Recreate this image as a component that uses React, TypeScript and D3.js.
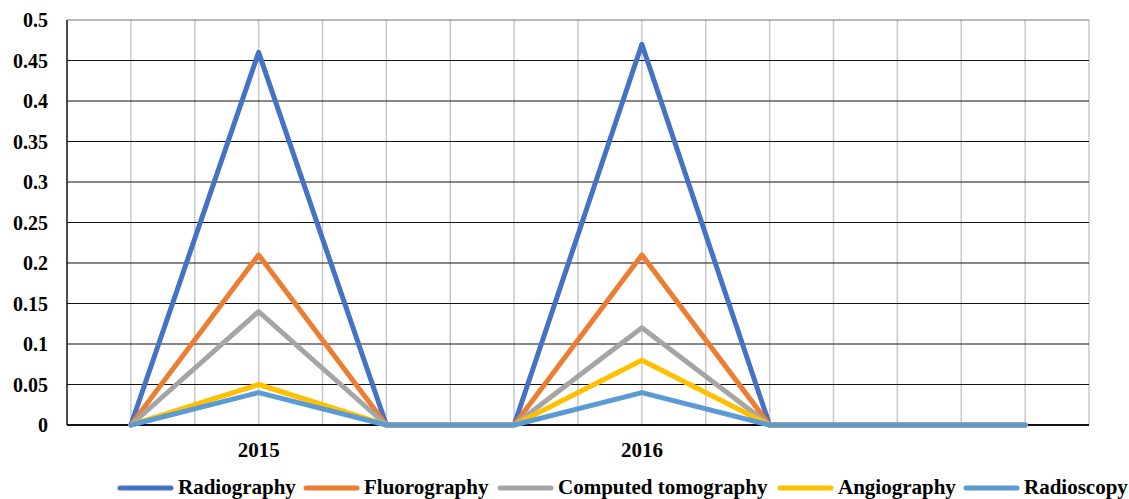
import React from "react";
import * as d3 from "d3";

// categories along x (only two carry a label)
const categories = ["", "2015", "", "", "2016", "", "", ""];

const radiography = [0, 0.46, 0, 0, 0.47, 0, 0, 0];
const fluorography = [0, 0.21, 0, 0, 0.21, 0, 0, 0];
const computedTomography = [0, 0.14, 0, 0, 0.12, 0, 0, 0];
const angiography = [0, 0.05, 0, 0, 0.08, 0, 0, 0];
const radioscopy = [0, 0.04, 0, 0, 0.04, 0, 0, 0];

const yTicks = [0, 0.05, 0.1, 0.15, 0.2, 0.25, 0.3, 0.35, 0.4, 0.45, 0.5];
const yTickLabels = ["0", "0.05", "0.1", "0.15", "0.2", "0.25", "0.3", "0.35", "0.4", "0.45", "0.5"];

const series = [
  { name: "Radiography", values: radiography, color: "#4472C4" },
  { name: "Fluorography", values: fluorography, color: "#ED7D31" },
  { name: "Computed tomography", values: computedTomography, color: "#A5A5A5" },
  { name: "Angiography", values: angiography, color: "#FFC000" },
  { name: "Radioscopy", values: radioscopy, color: "#5B9BD5" },
];

// legend swatch start x for each entry
const legendX = [118, 304, 498, 778, 964];

const width = 1129;
const height = 499;
const margin = { top: 20, right: 40, bottom: 74, left: 67 };
const font = "Liberation Serif, Times New Roman, serif";

const App: React.FC = () => {
  const x = d3
    .scaleBand<number>()
    .domain(d3.range(categories.length))
    .range([margin.left, width - margin.right]);
  const bw = x.bandwidth();
  const cx = (i: number) => (x(i) as number) + bw / 2;

  const y = d3
    .scaleLinear()
    .domain([0, 0.5])
    .range([height - margin.bottom, margin.top]);

  const line = d3
    .line<number>()
    .x((_, i) => cx(i))
    .y((d) => y(d));

  // vertical grid at band edges and band centres
  const vGrid: number[] = [];
  categories.forEach((_, i) => {
    if (i > 0) vGrid.push(x(i) as number);
    vGrid.push(cx(i));
  });

  const x0 = margin.left;
  const x1 = width - margin.right;
  const txt = { fontFamily: font, fontWeight: 700 } as React.CSSProperties;

  return (
    <svg
      width={width}
      height={height}
      style={{ position: "absolute", left: 0, top: 0, background: "#fff" }}
    >
      {vGrid.map((gx, i) => (
        <line key={"v" + i} x1={gx} x2={gx} y1={y(0.5)} y2={y(0)} stroke="#c8c8c8" strokeWidth={1.5} />
      ))}
      <line x1={x1} x2={x1} y1={y(0.5)} y2={y(0)} stroke="#c8c8c8" strokeWidth={1.5} />

      {yTicks.map((t, i) => (
        <g key={"h" + i}>
          {t > 0 && t < 0.5 && (
            <line x1={x0} x2={x1} y1={y(t)} y2={y(t)} stroke="#111" strokeWidth={1.2} />
          )}
          <text x={48} y={y(t)} textAnchor="end" dominantBaseline="central" fontSize={20} fill="#000" style={txt}>
            {yTickLabels[i]}
          </text>
        </g>
      ))}
      <line x1={x0} x2={x1} y1={y(0.5)} y2={y(0.5)} stroke="#777" strokeWidth={1.2} />
      <line x1={x0} x2={x0} y1={y(0.5)} y2={y(0)} stroke="#111" strokeWidth={1.5} />
      <line x1={x0} x2={x1} y1={y(0)} y2={y(0)} stroke="#111" strokeWidth={2} />

      {categories.map((c, i) =>
        c ? (
          <text key={"c" + i} x={cx(i)} y={457} textAnchor="middle" fontSize={21} fill="#000" style={txt}>
            {c}
          </text>
        ) : null
      )}

      {series.map((s) => (
        <path
          key={s.name}
          d={line(s.values) || ""}
          fill="none"
          stroke={s.color}
          strokeWidth={5}
          strokeLinejoin="round"
          strokeLinecap="round"
        />
      ))}

      {series.map((s, i) => (
        <g key={"l" + s.name} transform={`translate(${legendX[i]},488)`}>
          <line x1={2} x2={53} y1={0} y2={0} stroke={s.color} strokeWidth={5} strokeLinecap="round" />
          <text x={60} y={6} fontSize={21} fill="#000" style={txt}>
            {s.name}
          </text>
        </g>
      ))}
    </svg>
  );
};

export default App;
